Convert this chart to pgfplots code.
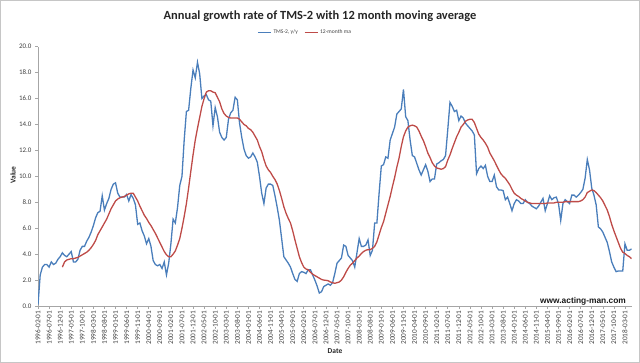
\documentclass[border=0pt]{standalone}
\usepackage{fontspec}
\setmainfont{Carlito}
\newfontfamily\arialfont{Liberation Sans}
\usepackage{pgfplots}
\pgfplotsset{compat=1.18}
\definecolor{tmsblue}{HTML}{4A7EBB}
\definecolor{mared}{HTML}{BE4B48}
\definecolor{axgray}{HTML}{A6A6A6}
\definecolor{txtgray}{HTML}{404040}
\begin{document}
\begin{tikzpicture}
\path[use as bounding box] (0bp,0bp) rectangle (640bp,363bp);
\draw[gray!45, line width=0.8bp] (0.4bp,0.4bp) rectangle (639.6bp,362.6bp);
\begin{axis}[
  at={(38bp,57bp)}, anchor=south west,
  scale only axis, width=593.6bp, height=259.3bp,
  xmin=0, xmax=268, ymin=0, ymax=20,
  axis x line=bottom, axis y line=left,
  axis line style={-, draw=axgray, line width=0.6bp},
  tick style={draw=axgray, line width=0.6bp},
  tick align=outside, major tick length=3bp,
  ytick={0,2,...,20},
  /pgf/number format/fixed, /pgf/number format/fixed zerofill, /pgf/number format/precision=1, /pgf/number format/assume math mode=true,
  yticklabel style={font=\fontsize{7}{8}\selectfont, text=txtgray},
  xtick={0,5,...,265},
  xticklabels={1996-02-01,1996-07-01,1996-12-01,1997-05-01,1997-10-01,1998-03-01,1998-08-01,1999-01-01,1999-06-01,1999-11-01,2000-04-01,2000-09-01,2001-02-01,2001-07-01,2001-12-01,2002-05-01,2002-10-01,2003-03-01,2003-08-01,2004-01-01,2004-06-01,2004-11-01,2005-04-01,2005-09-01,2006-02-01,2006-07-01,2006-12-01,2007-05-01,2007-10-01,2008-03-01,2008-08-01,2009-01-01,2009-06-01,2009-11-01,2010-04-01,2010-09-01,2011-02-01,2011-07-01,2011-12-01,2012-05-01,2012-10-01,2013-03-01,2013-08-01,2014-01-01,2014-06-01,2014-11-01,2015-04-01,2015-09-01,2016-02-01,2016-07-01,2016-12-01,2017-05-01,2017-10-01,2018-03-01},
  xticklabel style={rotate=90, anchor=east, font=\fontsize{7.3}{8}\selectfont, text=txtgray, inner sep=1.5bp},
  legend columns=2,
  legend style={at={(0.45,1.056)}, anchor=center, draw=none, fill=none, font=\fontsize{5.6}{6.5}\selectfont, text=txtgray,
    /tikz/every even column/.append style={column sep=4bp}, inner sep=0pt,
    /tikz/every odd column/.append style={inner xsep=0.5bp}},
  legend image code/.code={\draw[#1, line width=1.2bp] (0bp,0bp) -- (13bp,0bp);},
]
\addplot[tmsblue, line width=1.3bp] coordinates {
(0,0.1)(1,2.4)(2,3.0)(3,3.2)(4,3.2)(5,3.0)(6,3.4)(7,3.2)(8,3.3)(9,3.6)(10,3.8)(11,4.1)(12,3.9)(13,3.8)(14,4.0)(15,4.2)(16,3.4)(17,3.4)(18,3.6)(19,4.3)(20,4.6)(21,4.6)(22,5.0)(23,5.3)(24,5.7)(25,6.2)(26,6.8)(27,7.2)(28,7.3)(29,8.5)(30,7.4)(31,7.9)(32,8.3)(33,9.0)(34,9.4)(35,9.5)(36,8.7)(37,8.4)(38,8.4)(39,8.4)(40,8.6)(41,8.1)(42,8.6)(43,8.3)(44,7.8)(45,6.3)(46,6.4)(47,5.8)(48,5.4)(49,4.8)(50,5.2)(51,4.6)(52,3.5)(53,3.2)(54,3.1)(55,3.2)(56,2.9)(57,3.4)(58,2.4)(59,3.3)
(60,4.8)(61,6.7)(62,6.4)(63,7.6)(64,9.3)(65,10.0)(66,12.8)(67,15.0)(68,15.1)(69,16.8)(70,18.2)(71,17.6)(72,18.8)(73,17.9)(74,16.0)(75,16.2)(76,16.3)(77,15.9)(78,15.8)(79,13.9)(80,15.3)(81,14.6)(82,13.4)(83,13.0)(84,12.8)(85,13.0)(86,14.4)(87,14.9)(88,15.1)(89,16.1)(90,15.9)(91,14.1)(92,13.0)(93,12.1)(94,11.6)(95,11.4)(96,11.5)(97,11.8)(98,11.5)(99,11.1)(100,10.0)(101,8.7)(102,7.9)(103,9.1)(104,9.4)(105,9.4)(106,9.3)(107,8.5)(108,7.6)(109,6.6)(110,5.2)(111,3.8)(112,3.55)(113,3.3)(114,3.0)(115,2.5)(116,2.05)(117,1.9)(118,2.5)(119,2.65)
(120,2.6)(121,2.5)(122,2.8)(123,2.8)(124,2.4)(125,2.0)(126,1.55)(127,1.0)(128,1.1)(129,1.5)(130,1.6)(131,1.7)(132,1.6)(133,1.8)(134,2.5)(135,3.3)(136,3.5)(137,3.7)(138,4.7)(139,4.6)(140,3.9)(141,3.7)(142,3.5)(143,3.0)(144,4.1)(145,5.2)(146,4.6)(147,4.6)(148,4.7)(149,5.1)(150,3.9)(151,4.3)(152,6.4)(153,6.4)(154,8.7)(155,10.8)(156,10.9)(157,11.5)(158,11.4)(159,12.8)(160,13.3)(161,13.8)(162,14.8)(163,15.0)(164,15.2)(165,16.7)(166,14.6)(167,14.3)(168,12.8)(169,11.6)(170,11.5)(171,11.0)(172,10.5)(173,10.1)(174,10.5)(175,10.9)(176,10.4)(177,9.6)(178,9.8)(179,9.8)
(180,10.95)(181,11.05)(182,11.2)(183,11.3)(184,11.6)(185,13.6)(186,15.7)(187,15.4)(188,15.0)(189,15.1)(190,14.3)(191,14.65)(192,14.5)(193,14.1)(194,13.9)(195,13.7)(196,13.5)(197,13.2)(198,10.2)(199,10.6)(200,10.8)(201,10.6)(202,10.85)(203,10.0)(204,9.6)(205,9.6)(206,10.1)(207,9.2)(208,8.95)(209,8.95)(210,8.9)(211,8.2)(212,8.4)(213,7.9)(214,7.35)(215,7.9)(216,8.2)(217,8.1)(218,7.9)(219,7.9)(220,8.2)(221,8.0)(222,7.9)(223,7.7)(224,7.6)(225,7.5)(226,7.7)(227,8.0)(228,8.3)(229,7.35)(230,7.9)(231,8.5)(232,8.2)(233,8.35)(234,8.4)(235,7.9)(236,6.6)(237,7.9)(238,8.2)(239,8.05)
(240,7.9)(241,8.55)(242,8.55)(243,8.4)(244,8.55)(245,8.75)(246,9.0)(247,9.85)(248,11.3)(249,10.5)(250,9.1)(251,8.55)(252,7.8)(253,6.1)(254,5.95)(255,5.7)(256,5.3)(257,4.9)(258,4.2)(259,3.4)(260,3.0)(261,2.65)(262,2.7)(263,2.7)(264,2.7)(265,4.8)(266,4.3)(267,4.3)(268,4.4)
};
\addlegendentry{TMS-2, y/y}
\addplot[mared, line width=1.3bp] coordinates {
(11,3.0)(12,3.4)(13,3.55)(14,3.6)(15,3.65)(16,3.65)(17,3.7)(18,3.75)(19,3.85)(20,3.95)(21,4.05)(22,4.15)(23,4.3)(24,4.5)(25,4.75)(26,5.05)(27,5.5)(28,5.8)(29,6.1)(30,6.4)(31,6.7)(32,7.1)(33,7.5)(34,7.8)(35,8.1)(36,8.25)(37,8.35)(38,8.4)(39,8.45)(40,8.55)(41,8.65)(42,8.7)(43,8.7)(44,8.4)(45,8.1)(46,7.7)(47,7.35)(48,7.0)(49,6.75)(50,6.45)(51,6.2)(52,5.9)(53,5.6)(54,5.25)(55,4.9)(56,4.55)(57,4.2)(58,3.95)(59,3.8)
(60,3.8)(61,4.0)(62,4.25)(63,4.7)(64,5.2)(65,6.0)(66,6.9)(67,7.9)(68,9.1)(69,10.4)(70,11.65)(71,12.8)(72,13.7)(73,14.55)(74,15.4)(75,16.0)(76,16.5)(77,16.6)(78,16.6)(79,16.5)(80,16.45)(81,16.1)(82,15.75)(83,15.2)(84,14.85)(85,14.65)(86,14.55)(87,14.5)(88,14.5)(89,14.5)(90,14.5)(91,14.4)(92,14.2)(93,14.0)(94,13.9)(95,13.7)(96,13.6)(97,13.4)(98,13.1)(99,12.8)(100,12.3)(101,11.9)(102,11.3)(103,10.8)(104,10.5)(105,10.3)(106,10.0)(107,9.75)(108,9.4)(109,8.9)(110,8.3)(111,7.65)(112,7.15)(113,6.75)(114,6.4)(115,5.8)(116,5.1)(117,4.45)(118,3.8)(119,3.35)
(120,3.0)(121,2.85)(122,2.8)(123,2.6)(124,2.45)(125,2.35)(126,2.25)(127,2.15)(128,2.05)(129,2.0)(130,1.98)(131,1.95)(132,1.85)(133,1.8)(134,1.75)(135,1.8)(136,1.85)(137,2.0)(138,2.25)(139,2.6)(140,2.9)(141,3.15)(142,3.3)(143,3.5)(144,3.7)(145,3.85)(146,4.05)(147,4.2)(148,4.3)(149,4.35)(150,4.35)(151,4.45)(152,4.6)(153,4.95)(154,5.5)(155,6.05)(156,6.5)(157,7.15)(158,7.8)(159,8.45)(160,9.2)(161,9.9)(162,10.7)(163,11.4)(164,12.3)(165,13.05)(166,13.5)(167,13.8)(168,13.9)(169,13.95)(170,13.9)(171,13.8)(172,13.5)(173,13.1)(174,12.75)(175,12.3)(176,11.8)(177,11.45)(178,11.05)(179,10.8)
(180,10.65)(181,10.6)(182,10.55)(183,10.6)(184,10.75)(185,11.25)(186,11.65)(187,12.15)(188,12.6)(189,13.05)(190,13.4)(191,13.8)(192,14.0)(193,14.25)(194,14.35)(195,14.4)(196,14.4)(197,14.15)(198,13.7)(199,13.25)(200,13.0)(201,12.8)(202,12.55)(203,12.25)(204,11.8)(205,11.5)(206,11.2)(207,10.85)(208,10.5)(209,10.2)(210,10.0)(211,9.85)(212,9.6)(213,9.35)(214,9.0)(215,8.7)(216,8.55)(217,8.45)(218,8.3)(219,8.2)(220,8.1)(221,8.0)(222,7.95)(223,7.9)(224,7.9)(225,7.9)(226,7.9)(227,7.9)(228,7.9)(229,7.9)(230,7.95)(231,7.95)(232,7.95)(233,7.95)(234,8.0)(235,8.0)(236,8.0)(237,8.0)(238,8.05)(239,8.05)
(240,8.05)(241,8.05)(242,8.05)(243,8.05)(244,8.05)(245,8.1)(246,8.2)(247,8.4)(248,8.75)(249,8.85)(250,8.95)(251,8.9)(252,8.75)(253,8.55)(254,8.35)(255,8.1)(256,7.75)(257,7.4)(258,6.9)(259,6.3)(260,5.8)(261,5.35)(262,4.9)(263,4.45)(264,4.15)(265,4.05)(266,3.9)(267,3.8)(268,3.65)
};
\addlegendentry{12-month ma}
\end{axis}
\node[font=\bfseries\fontsize{12.5}{14}\selectfont, text=black!85] at (320bp,347.3bp) {Annual growth rate of TMS-2 with 12 month moving average};
\node[font=\bfseries\fontsize{7.5}{9}\selectfont, text=black!85, rotate=90] at (13bp,188bp) {Value};
\node[font=\bfseries\fontsize{7.5}{9}\selectfont, text=black!85] at (335bp,12bp) {Date};
\node[font=\arialfont\bfseries\fontsize{8.4}{10}\selectfont, text=black!90] at (583bp,62bp) {www.acting-man.com};
\end{tikzpicture}
\end{document}
